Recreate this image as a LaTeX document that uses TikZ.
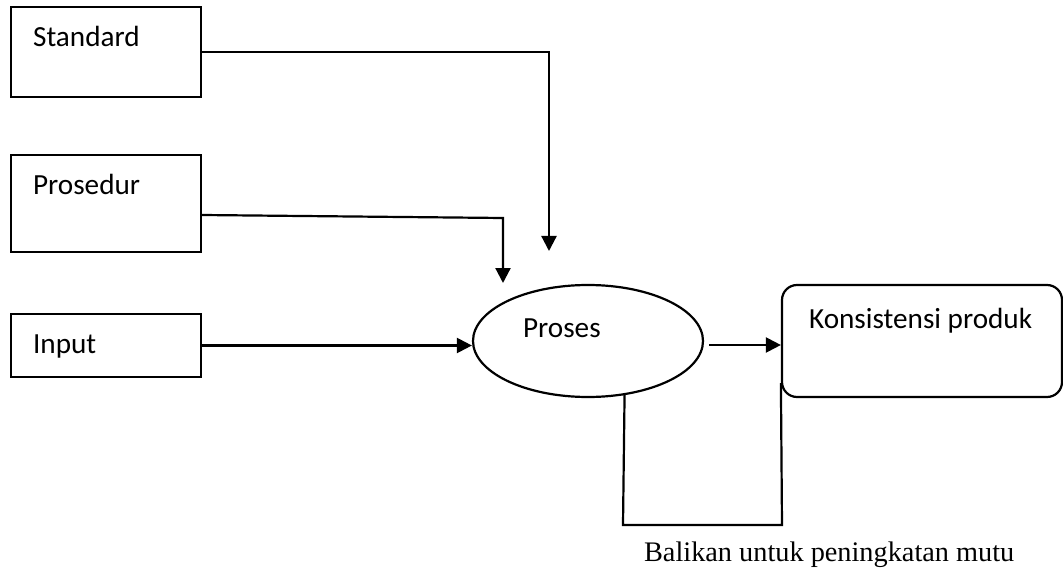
\documentclass[tikz,border=0pt]{standalone}
\usepackage{fontspec}
\setmainfont{Carlito}
\newfontfamily\serifcaption{Liberation Serif}
\usetikzlibrary{shapes.geometric,arrows.meta}

\begin{document}
\begin{tikzpicture}[
  x=1pt, y=-1pt,
  line width=2.2pt,
  sourcebox/.style={draw, rectangle, minimum width=190pt, inner sep=0pt},
  boxlabel/.style={anchor=base west, inner sep=0pt, font=\fontsize{29.2}{34}\selectfont},
  flow/.style={-{Triangle[length=15pt,width=15pt]}},
]
\useasboundingbox (0,0) rectangle (1063,572);

% input boxes on the left
\node[sourcebox, minimum height=90pt] (std) at (106,52) {};
\node[sourcebox, minimum height=97pt] (pro) at (106,203.5) {};
\node[sourcebox, minimum height=63pt] (inp) at (106,345.5) {};

% process and result
\node[draw, ellipse, minimum width=230pt, minimum height=112pt, inner sep=0pt] (proses) at (588,341) {};
\node[draw, rectangle, rounded corners=15pt, minimum width=280pt, minimum height=112pt, inner sep=0pt] (kon) at (922,341) {};

% box texts
\node[boxlabel] (stdtxt) at (32,47) {Standard};
\node[boxlabel] (protxt) at (32,195) {Prosedur};
\node[boxlabel] (inptxt) at (32,353) {Input};
\node[boxlabel] (prstxt) at (522,337) {Proses};
\node[boxlabel] (kontxt) at (808,328) {Konsistensi produk};

% caption of the feedback loop
\node[anchor=base west, inner sep=0pt, font=\serifcaption\fontsize{28.3}{33}\selectfont] (bal) at (643,561) {Balikan untuk peningkatan mutu};

% connector bends and free ends
\coordinate (stdknee) at (549,52);
\coordinate (stdend) at (549,251);
\coordinate (proknee) at (503,218);
\coordinate (proend) at (503,283);
\coordinate (fbleft) at (623,525);
\coordinate (fbright) at (782,525);

% connectors
\draw[flow] (std.east) -- (stdknee) -- (stdend);
\draw[flow] (pro.east) ++(0,11.5) -- (proknee) -- (proend);
\draw[flow] (inp.east) -- (inp.east -| proses.west);
\draw[flow] ([xshift=5pt,yshift=-4pt]proses.east) -- ([yshift=-4pt]kon.west);

% feedback loop from the process to the result
\draw (proses.-56.6) -- (fbleft) -- (fbright) -- ([yshift=15pt]kon.south west);
\end{tikzpicture}
\end{document}
